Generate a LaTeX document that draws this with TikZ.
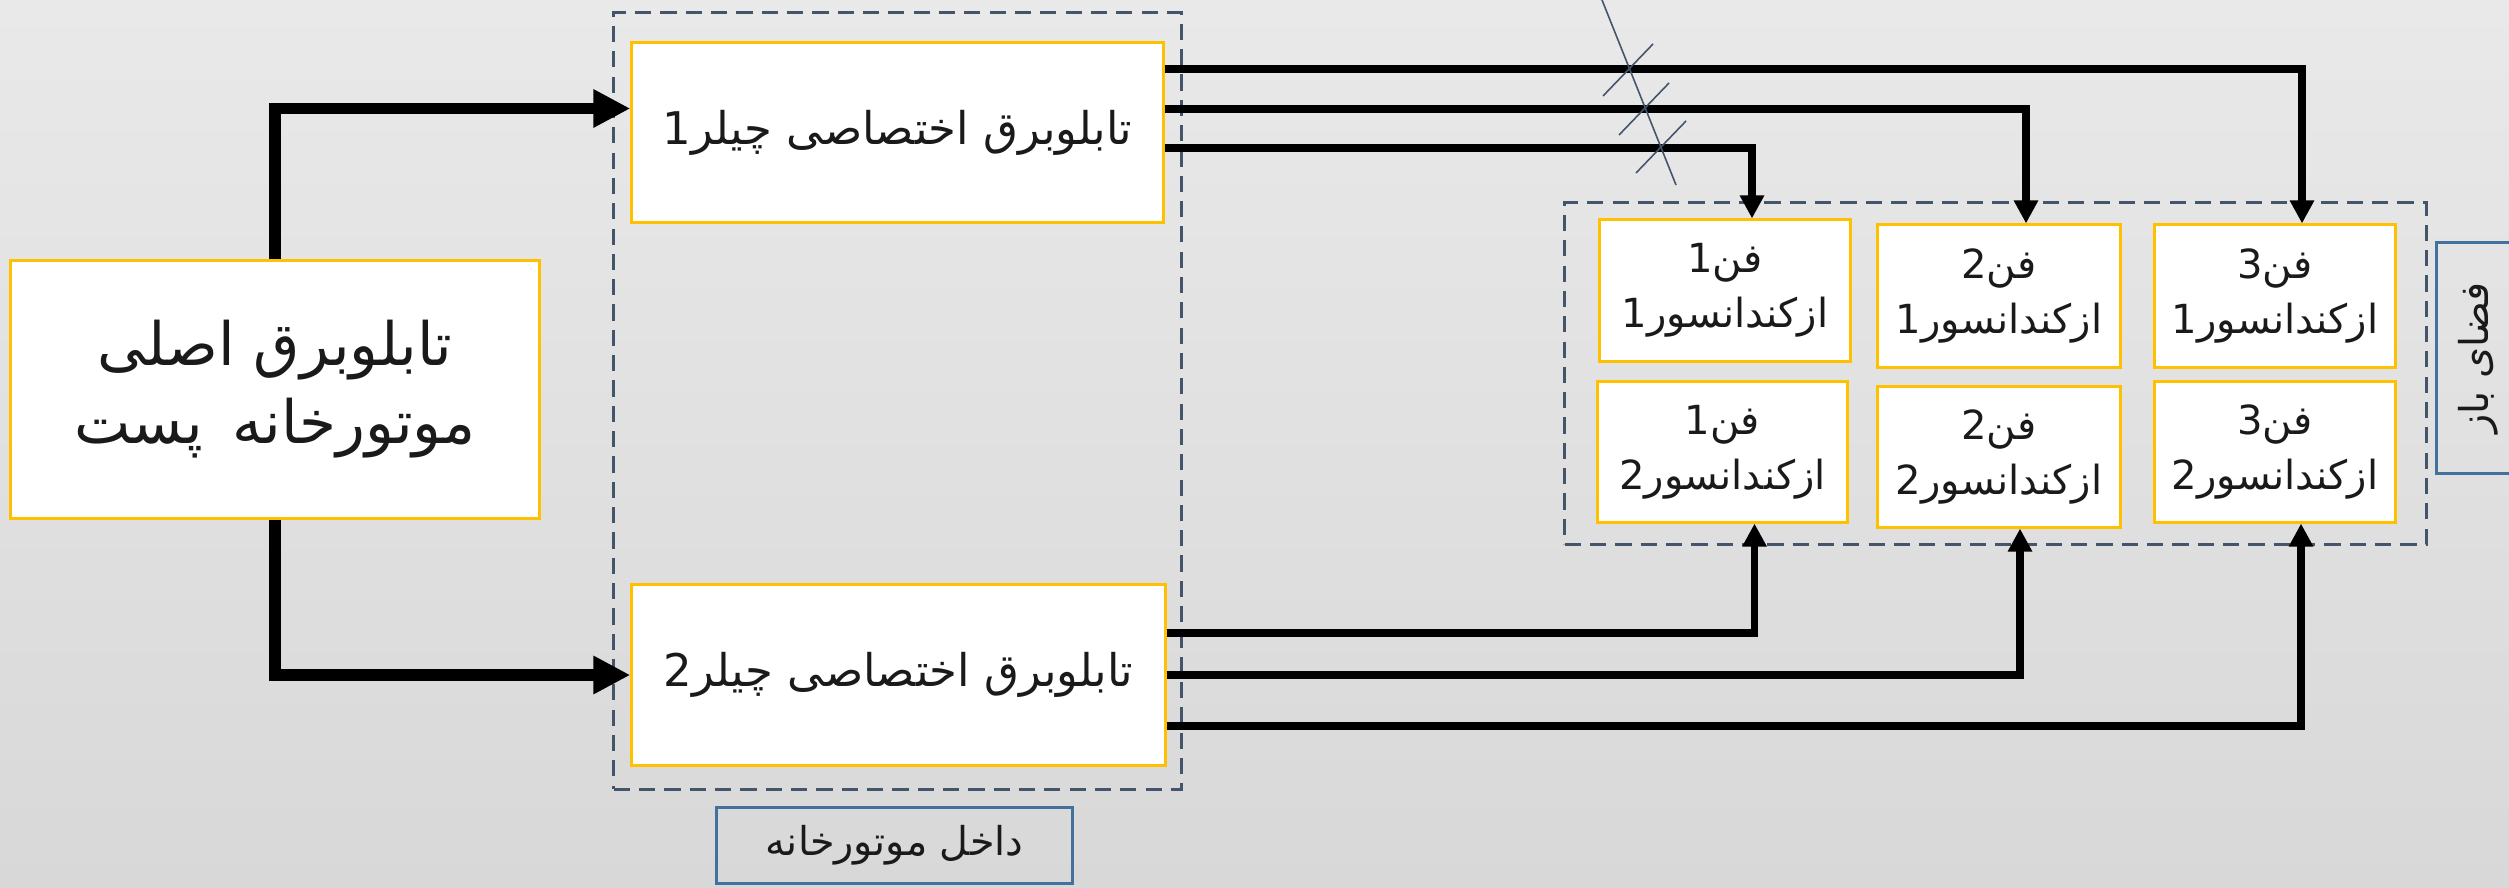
\documentclass[tikz,border=0pt]{standalone}
\usepackage{fontspec}
\usetikzlibrary{arrows.meta,calc}
\newfontfamily\arfont[Script=Arabic]{DejaVu Sans}
\TeXXeTstate=1
\definecolor{ybox}{HTML}{FFC000}
\definecolor{dgray}{HTML}{44546A}
\definecolor{lblue}{HTML}{41719C}
\definecolor{bgtop}{HTML}{E9E9E9}
\definecolor{bgbot}{HTML}{D8D8D8}
\definecolor{txt}{HTML}{1A1A1A}
\begin{document}
\begin{tikzpicture}[x=0.01cm,y=-0.01cm,
  ybox/.style={draw=ybox, fill=white, line width=0.85pt, inner sep=0pt, text=txt, align=center,
    font=\arfont\fontsize{12.8}{15.4}\selectfont},
  fanbox/.style={ybox, font=\arfont\fontsize{11.4}{15.6}\selectfont},
  mainbox/.style={ybox, font=\arfont\fontsize{17}{22.2}\selectfont},
  container/.style={draw=dgray, line width=0.85pt, dash pattern=on 4.6pt off 2.6pt, inner sep=0pt},
  lblbox/.style={draw=lblue, line width=0.85pt, inner sep=0pt, text=txt,
    font=\arfont\fontsize{11.3}{15.4}\selectfont},
  wire/.style={line width=2.1pt, -{Triangle[length=0.23cm,width=0.23cm]}},
  feed/.style={line width=3.4pt, -{Triangle[length=0.37cm,width=0.36cm]}},
  tick/.style={draw=dgray, line width=0.45pt}
]
\useasboundingbox (0,0) rectangle (2509,888);
\clip (0,0) rectangle (2509,888);
\shade[top color=bgtop, bottom color=bgbot] (0,0) rectangle (2509,888);

% containers
\node[container, minimum width=5.67cm, minimum height=7.76cm] (inside) at (897.5,401) {};
\node[container, minimum width=8.61cm, minimum height=3.41cm] (outside) at (1995.5,373.5) {};

% main boxes
\node[mainbox, minimum width=5.28cm, minimum height=2.57cm] (main) at (275,389.5)
  {\beginR تابلوبرق اصلی\endR\\\beginR موتورخانه\hspace{0.5em}پست\endR};
\node[ybox, minimum width=5.31cm, minimum height=1.79cm] (c1) at (897.5,132.5)
  {\beginR تابلوبرق اختصاصی چیلر1\endR};
\node[ybox, minimum width=5.33cm, minimum height=1.80cm] (c2) at (898.5,675)
  {\beginR تابلوبرق اختصاصی چیلر2\endR};

% fans
\node[fanbox, minimum width=2.50cm, minimum height=1.41cm] (f11) at (1725,290.5)
  {\beginR فن1\endR\\\beginR ازکندانسور1\endR};
\node[fanbox, minimum width=2.42cm, minimum height=1.42cm] (f21) at (1999,296)
  {\beginR فن2\endR\\\beginR ازکندانسور1\endR};
\node[fanbox, minimum width=2.40cm, minimum height=1.42cm] (f31) at (2275,296)
  {\beginR فن3\endR\\\beginR ازکندانسور1\endR};
\node[fanbox, minimum width=2.49cm, minimum height=1.40cm] (f12) at (1722.5,452)
  {\beginR فن1\endR\\\beginR ازکندانسور2\endR};
\node[fanbox, minimum width=2.42cm, minimum height=1.40cm] (f22) at (1999,457)
  {\beginR فن2\endR\\\beginR ازکندانسور2\endR};
\node[fanbox, minimum width=2.40cm, minimum height=1.40cm] (f32) at (2275,452)
  {\beginR فن3\endR\\\beginR ازکندانسور2\endR};

% labels
\node[lblbox, minimum width=3.55cm, minimum height=0.75cm] (lbl1) at (894.5,845.5)
  {\beginR داخل موتورخانه\endR};
\node[lblbox, rotate=90, minimum width=2.30cm, minimum height=0.84cm] (lbl2) at (2478,358)
  {\beginR فضای باز\endR};

% feeds from main board
\draw[feed] (main.north) |- ($(c1.west)+(0,-24)$);
\draw[feed] (main.south) |- (c2.west);

% wires from chiller 1
\draw[wire] ($(c1.east)+(0,-63.5)$) -| ($(f31.north)+(27,0)$);
\draw[wire] ($(c1.east)+(0,-23.5)$) -| ($(f21.north)+(27,0)$);
\draw[wire] ($(c1.east)+(0,15.5)$) -| ($(f11.north)+(27,0)$);

% wires from chiller 2
\draw[wire] ($(c2.east)+(0,-42)$) -| ($(f12.south)+(32,0)$);
\draw[wire] (c2.east) -| ($(f22.south)+(21,0)$);
\draw[wire] ($(c2.east)+(0,51)$) -| ($(f32.south)+(26,0)$);

% cut marks
\draw[tick] (1600,-5) -- (1676,185);
\draw[tick] (1603,96) -- (1653,44);
\draw[tick] (1619,135) -- (1669,83);
\draw[tick] (1636,173) -- (1686,121);
\end{tikzpicture}
\end{document}
